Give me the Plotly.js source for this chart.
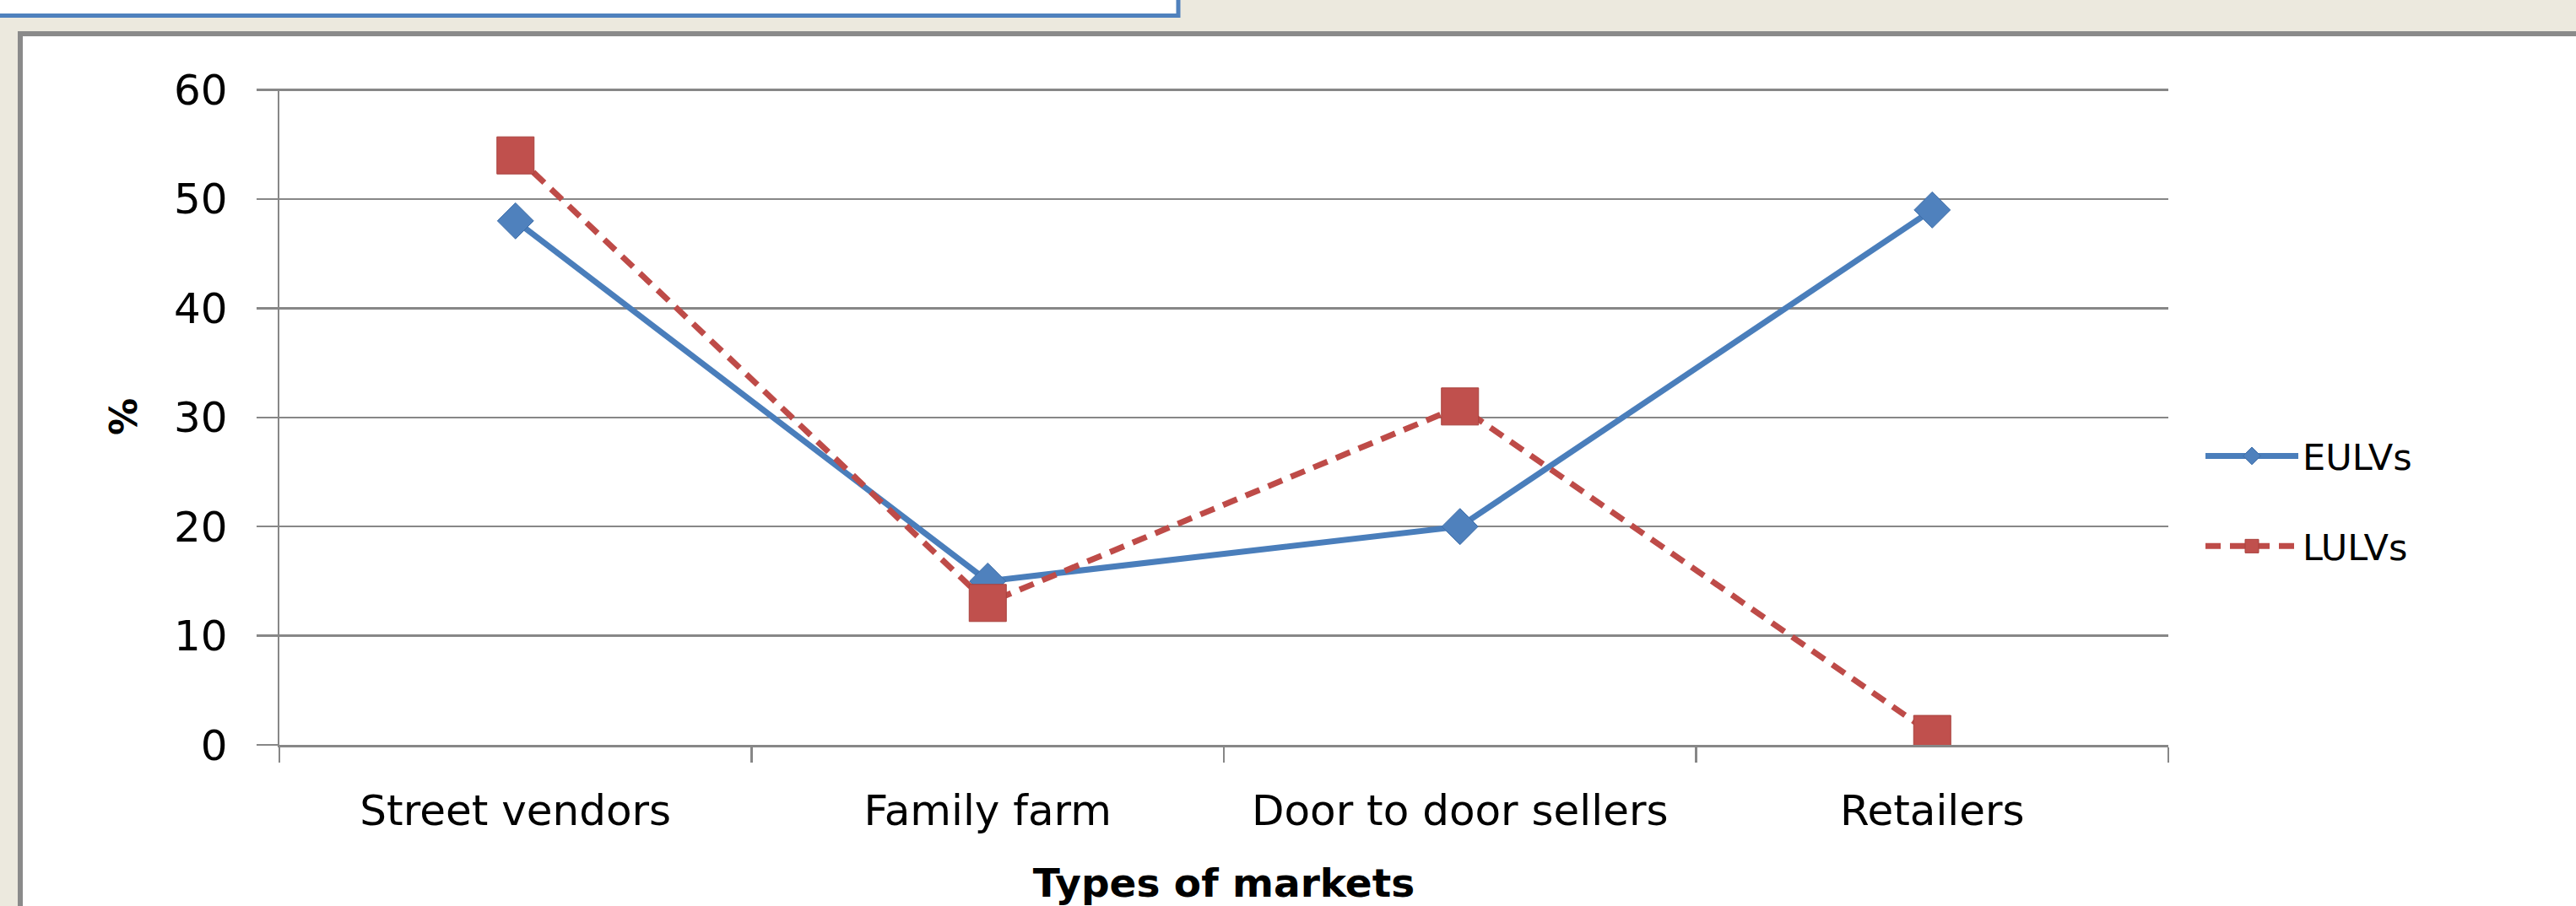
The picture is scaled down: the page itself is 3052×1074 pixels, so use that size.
<!DOCTYPE html>
<html>
<head>
<meta charset="utf-8">
<script src="https://cdn.plot.ly/plotly-3.0.1.min.js"></script>
<style>
  html, body { margin: 0; padding: 0; background: #ECE9DE; }
  #chart { width: 3052px; height: 1074px; }
</style>
</head>
<body>
<div id="chart"></div>
<script>
// ---- data ----
const categories = ["Street vendors", "Family farm", "Door to door sellers", "Retailers"];
const eulvs = [48, 15, 20, 49];
const lulvs = [54, 13, 31, 1];
const seriesNames = ["EULVs", "LULVs"];
const yTicks = [0, 10, 20, 30, 40, 50, 60];
const xTitle = "Types of markets";
const yTitle = "%";

// ---- geometry helpers (pixel -> paper) ----
const W = 3052, H = 1074;
const L = 331, R = 2569, T = 105, B = 883;
const px = v => (v - L) / (R - L);
const py = v => (B - v) / (B - T);

const gridCol = "#878787";
const fontFam = "DejaVu Sans, Verdana, sans-serif";

const traces = [
  {
    x: categories, y: eulvs, name: seriesNames[0], type: "scatter", mode: "lines+markers",
    legendgroup: "a",
    line: { color: "#4A7EBB", width: 7 },
    marker: { symbol: "diamond", size: 33, color: "#4F81BD", line: { color: "#3D6DA8", width: 1 } }
  },
  {
    x: categories, y: lulvs, name: seriesNames[1], type: "scatter", mode: "lines+markers",
    legendgroup: "b",
    line: { color: "#BE4B48", width: 7, dash: "18px,11px" },
    marker: { symbol: "square", size: 44, color: "#C0504D", line: { color: "#A8403D", width: 1 } }
  }
];

const layout = {
  width: W, height: H,
  margin: { l: L, r: W - R, t: T, b: H - B, pad: 0 },
  paper_bgcolor: "#ECE9DE",
  plot_bgcolor: "rgba(0,0,0,0)",
  showlegend: true,
  font: { family: fontFam, color: "#000" },
  legend: {
    x: px(2608), xanchor: "left", y: py(594), yanchor: "middle",
    font: { family: fontFam, size: 43, color: "#000" },
    itemwidth: 110, itemsizing: "trace", tracegroupgap: 48, traceorder: "grouped",
    bgcolor: "rgba(0,0,0,0)"
  },
  xaxis: {
    type: "category", range: [-0.5, 3.5], fixedrange: true,
    showline: true, linecolor: gridCol, linewidth: 2.5,
    ticks: "outside", tickson: "boundaries", ticklen: 18, tickcolor: gridCol, tickwidth: 2.5,
    showgrid: false, zeroline: false,
    tickfont: { family: fontFam, size: 50, color: "#000" },
    ticklabelstandoff: 32,
    title: { text: xTitle, font: { family: fontFam, size: 47, color: "#000", weight: "bold" }, standoff: 58 }
  },
  yaxis: {
    range: [0, 60.12], tickvals: yTicks, fixedrange: true,
    showline: true, linecolor: gridCol, linewidth: 2.5,
    ticks: "outside", ticklen: 25, tickcolor: gridCol, tickwidth: 2.5,
    showgrid: true, gridcolor: gridCol, gridwidth: 2.5, zeroline: false,
    tickfont: { family: fontFam, size: 50, color: "#000" },
    ticklabelstandoff: 24,
    title: { text: yTitle, font: { family: fontFam, size: 44, color: "#000", weight: "bold" }, standoff: 30 }
  },
  shapes: [
    // top white box with blue border
    { type: "rect", xref: "paper", yref: "paper", layer: "below",
      x0: px(-30), x1: px(1396), y0: py(-30), y1: py(18.5),
      fillcolor: "#FFFFFF", line: { color: "#4F81BD", width: 5 } },
    // chart frame
    { type: "rect", xref: "paper", yref: "paper", layer: "below",
      x0: px(24), x1: px(3120), y0: py(40), y1: py(1140),
      fillcolor: "#FFFFFF", line: { color: "#8A8A8A", width: 6 } }
  ]
};

Plotly.newPlot("chart", traces, layout, { displayModeBar: false, staticPlot: true });
</script>
</body>
</html>
